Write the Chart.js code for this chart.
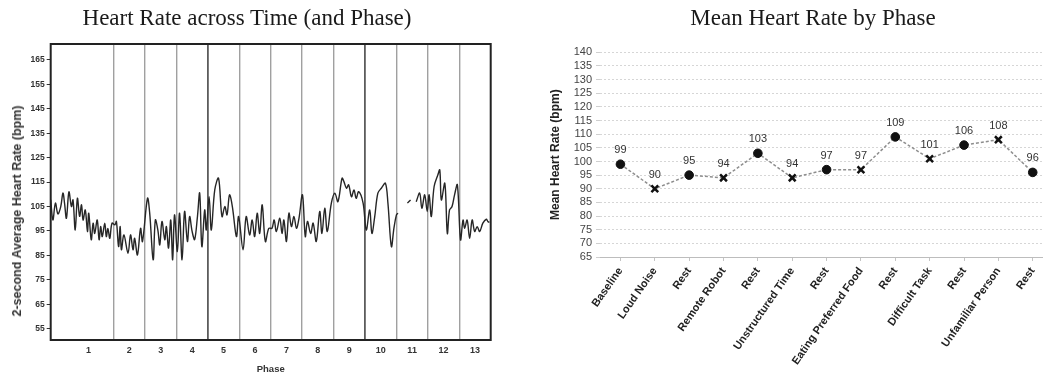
<!DOCTYPE html>
<html>
<head>
<meta charset="utf-8">
<script src="https://cdn.jsdelivr.net/npm/chart.js@4.4.1/dist/chart.umd.min.js"></script>
<style>
  body { margin: 0; width: 1048px; height: 376px; position: relative; background: #fff; overflow: hidden; }
  .panel { position: absolute; top: 0; height: 376px; }
  .title { position: absolute; top: 5px; font-family: "Liberation Serif", serif; font-size: 23px; line-height: 26px; color: #1a1a1a; text-align: center; white-space: nowrap; }
  .ycap { position: absolute; font-family: "Liberation Sans", Arial, sans-serif; font-weight: bold; font-size: 12.5px; color: #333; white-space: nowrap; transform: translate(-50%, -50%) rotate(-90deg); }
</style>
</head>
<body>
<div class="panel" style="left:0;width:520px"><canvas id="hrTime" width="520" height="376"></canvas></div>
<div class="panel" style="left:520px;width:528px"><canvas id="hrMean" width="528" height="376"></canvas></div>
<div class="title" style="left:0;width:494px">Heart Rate across Time (and Phase)</div>
<div class="title" style="left:578px;width:470px">Mean Heart Rate by Phase</div>
<div class="ycap" style="left:17px;top:211px">2-second Average Heart Rate (bpm)</div>

<script>
// --- left panel: 2 s averaged heart rate over the session (x in phase units)
const hrTime = [
  0.00, 0.07, 0.15, 0.23, 0.32, 0.39, 0.44, 0.50, 0.58, 0.66, 0.71, 0.78, 0.85, 0.92, 0.98,
  1.03, 1.10, 1.17, 1.21, 1.29, 1.35, 1.40, 1.48, 1.54, 1.59, 1.64, 1.72, 1.77, 1.82, 1.88, 1.95,
  2.04, 2.09, 2.16, 2.21, 2.25, 2.33, 2.46, 2.54, 2.62, 2.67, 2.76, 2.86, 2.92,
  3.08, 3.15, 3.26, 3.33, 3.41, 3.47, 3.54, 3.63, 3.68, 3.75, 3.82, 3.88, 3.94,
  4.03, 4.10, 4.18, 4.26, 4.35, 4.42, 4.50, 4.58, 4.67, 4.74, 4.81, 4.90, 4.95,
  5.04, 5.11, 5.22, 5.34, 5.45, 5.54, 5.61, 5.69, 5.78, 5.91, 5.98,
  6.12, 6.22, 6.33, 6.41, 6.49, 6.57, 6.65, 6.73, 6.83, 6.94,
  7.04, 7.11, 7.18, 7.29, 7.36, 7.42, 7.50, 7.58, 7.66, 7.74, 7.82, 7.90,
  8.01, 8.10, 8.17, 8.27, 8.35, 8.45, 8.56, 8.63, 8.72, 8.80, 8.93,
  9.04, 9.14, 9.27, 9.33, 9.41, 9.48, 9.57, 9.65, 9.72, 9.80, 9.94,
  10.04, 10.15, 10.22, 10.31, 10.41, 10.52, 10.65, 10.73, 10.84, 10.92, 11.00, 11.05,
  11.20, 11.35, 11.45, 11.54, 11.63, 11.74, 11.81, 11.90, 11.98,
  12.04, 12.11, 12.20, 12.32, 12.38, 12.43, 12.54, 12.62, 12.69, 12.77, 12.85, 12.94,
  13.04, 13.12, 13.17, 13.25, 13.33, 13.41, 13.49, 13.57, 13.65, 13.75, 13.86, 13.91, 13.96
];
const hrRate = [
  107.7, 99.5, 106.4, 102.0, 105.0, 110.5, 106.4, 100.2, 111.0, 105.0, 107.7, 95.4, 108.4, 101.0, 105.7,
  99.5, 103.6, 94.8, 102.3, 91.4, 98.2, 94.0, 99.5, 91.4, 96.8, 92.7, 98.2, 92.7, 96.0, 92.0, 98.2,
  97.5, 98.9, 88.6, 96.8, 87.3, 93.4, 85.9, 93.4, 87.3, 92.0, 85.2, 96.1, 90.7,
  108.4, 102.3, 83.2, 99.5, 95.4, 89.3, 98.9, 91.4, 96.8, 88.0, 99.5, 83.2, 101.6,
  86.6, 102.3, 83.2, 103.0, 90.7, 100.9, 94.8, 91.5, 101.0, 110.5, 88.6, 103.6, 95.4,
  109.0, 95.4, 111.8, 116.6, 100.9, 105.0, 101.6, 109.8, 105.0, 92.7, 100.9,
  87.3, 100.9, 93.4, 99.5, 92.7, 102.3, 94.0, 105.7, 90.7, 96.1,
  96.1, 99.5, 94.8, 100.2, 94.0, 99.5, 90.7, 102.3, 96.8, 100.9, 96.1, 100.2,
  109.8, 92.7, 98.9, 94.0, 98.2, 90.7, 103.0, 94.0, 104.3, 94.8, 106.4,
  110.5, 107.0, 116.6, 115.2, 112.5, 113.9, 109.0, 111.8, 108.4, 111.1, 106.4,
  95.4, 103.6, 94.0, 100.9, 110.5, 112.5, 114.5, 106.4, 88.6, 96.1, 101.6, 102.3,
  null, 106.4, 107.7, null, 107.0, 110.5, 104.3, 109.8, 103.0,
  109.8, 100.9, 113.2, 118.0, 120.0, 107.7, 114.5, 94.0, 103.6, 105.0, 109.8, 113.9,
  91.4, 99.5, 96.1, 99.5, 92.0, 99.5, 94.8, 96.8, 94.8, 98.2, 99.8, 98.9, 98.5
];
const phaseBounds = [2, 3, 4, 5, 6, 7, 8, 9, 10, 11, 12, 13];
const heavyBounds = [5, 10];
const phaseTickPos = [1.2, 2.5, 3.5, 4.5, 5.5, 6.5, 7.5, 8.5, 9.5, 10.5, 11.5, 12.5, 13.5];
const phaseTickLabels = ['1', '2', '3', '4', '5', '6', '7', '8', '9', '10', '11', '12', '13'];
const rateTicks = [55, 65, 75, 85, 95, 105, 115, 125, 135, 145, 155, 165];

// --- right panel: mean heart rate per phase
const phaseNames = ['Baseline', 'Loud Noise', 'Rest', 'Remote Robot', 'Rest', 'Unstructured Time', 'Rest',
  'Eating Preferred Food', 'Rest', 'Difficult Task', 'Rest', 'Unfamiliar Person', 'Rest'];
const meanRate = [99, 90, 95, 94, 103, 94, 97, 97, 109, 101, 106, 108, 96];

const sans = "'Liberation Sans', Arial, sans-serif";
const isRest = n => n === 'Rest' || n === 'Baseline';

// dark rectangle round the plot area
const frame = {
  id: 'frame',
  afterDraw(chart) {
    const { ctx, chartArea: a } = chart;
    ctx.save();
    ctx.strokeStyle = '#222';
    ctx.lineWidth = 2;
    ctx.strokeRect(a.left, a.top, a.right - a.left, a.bottom - a.top);
    ctx.restore();
  }
};

// value printed above each mean point
const valueLabels = {
  id: 'valueLabels',
  afterDatasetsDraw(chart) {
    const ctx = chart.ctx;
    const meta = chart.getDatasetMeta(0);
    ctx.save();
    ctx.font = '11px ' + sans;
    ctx.fillStyle = '#333';
    ctx.textAlign = 'center';
    ctx.textBaseline = 'middle';
    meta.data.forEach((pt, i) => {
      ctx.fillText(String(meanRate[i]), pt.x, pt.y - 14);
    });
    ctx.restore();
  }
};

new Chart(document.getElementById('hrTime'), {
  type: 'line',
  data: {
    datasets: [{
      data: hrTime.map((t, i) => ({ x: t, y: hrRate[i] })),
      borderColor: '#262626',
      borderWidth: 1.4,
      pointRadius: 0,
      tension: 0.35,
      spanGaps: false
    }]
  },
  options: {
    responsive: false,
    animation: false,
    layout: { padding: { top: 44, right: 29.3, left: 0, bottom: 0 } },
    plugins: { legend: { display: false }, tooltip: { enabled: false } },
    scales: {
      x: {
        type: 'linear',
        min: 0,
        max: 14,
        afterBuildTicks(scale) {
          scale.ticks = [...phaseBounds, ...phaseTickPos].sort((a, b) => a - b).map(v => ({ value: v }));
        },
        afterFit(scale) { scale.height = 36; },
        border: { display: false },
        grid: {
          drawTicks: false,
          color: c => !phaseBounds.includes(c.tick.value) ? 'rgba(0,0,0,0)'
            : heavyBounds.includes(c.tick.value) ? '#5c5c5c' : '#a0a0a0',
          lineWidth: c => heavyBounds.includes(c.tick.value) ? 1.8 : 1.4
        },
        ticks: {
          autoSkip: false,
          maxRotation: 0,
          padding: 5,
          color: '#333',
          font: { family: sans, size: 9, weight: 'bold' },
          callback: v => {
            const i = phaseTickPos.indexOf(v);
            return i >= 0 ? phaseTickLabels[i] : '';
          }
        },
        title: {
          display: true,
          text: 'Phase',
          color: '#333',
          font: { family: sans, size: 9.5, weight: 'bold' },
          padding: { top: 0, bottom: 1 }
        }
      },
      y: {
        min: 50.4,
        max: 171.5,
        afterBuildTicks(scale) { scale.ticks = rateTicks.map(v => ({ value: v })); },
        afterFit(scale) { scale.width = 50.7; },
        border: { display: false },
        grid: { drawOnChartArea: false, tickLength: 4, tickColor: '#333' },
        ticks: {
          autoSkip: false,
          padding: 2,
          color: '#333',
          font: { family: sans, size: 8.5, weight: 'bold' }
        }
      }
    }
  },
  plugins: [frame]
});

new Chart(document.getElementById('hrMean'), {
  type: 'line',
  data: {
    datasets: [{
      data: meanRate.map((v, i) => ({ x: i, y: v })),
      borderColor: '#8e8e8e',
      borderWidth: 1.5,
      borderDash: [3, 2],
      tension: 0,
      pointStyle: phaseNames.map(n => isRest(n) ? 'circle' : 'crossRot'),
      pointRadius: phaseNames.map(n => isRest(n) ? 4.3 : 4.8),
      pointBorderWidth: phaseNames.map(n => isRest(n) ? 1 : 2.5),
      pointBackgroundColor: '#111',
      pointBorderColor: '#111'
    }]
  },
  options: {
    responsive: false,
    animation: false,
    layout: { padding: { top: 52.3, right: 0, left: 0, bottom: 0 } },
    plugins: { legend: { display: false }, tooltip: { enabled: false } },
    scales: {
      x: {
        type: 'linear',
        min: -0.595,
        max: 12.29,
        afterBuildTicks(scale) { scale.ticks = phaseNames.map((_, i) => ({ value: i })); },
        afterFit(scale) { scale.height = 119; },
        border: { display: true, color: '#bdbdbd', width: 1 },
        grid: { drawOnChartArea: false, tickLength: 4, tickColor: '#c4c4c4' },
        ticks: {
          autoSkip: false,
          minRotation: 55,
          maxRotation: 55,
          padding: 4,
          color: '#222',
          font: { family: sans, size: 11, weight: 'bold' },
          callback: v => phaseNames[v]
        }
      },
      y: {
        min: 65,
        max: 140,
        afterFit(scale) { scale.width = 80; },
        border: { display: false, dash: [2, 2] },
        grid: { color: '#d6d6d6', tickLength: 4, tickColor: '#cfcfcf' },
        ticks: {
          stepSize: 5,
          autoSkip: false,
          padding: 4,
          color: '#444',
          font: { family: sans, size: 11, lineHeight: 1 }
        },
        title: {
          display: true,
          text: 'Mean Heart Rate (bpm)',
          color: '#222',
          font: { family: sans, size: 12, weight: 'bold' },
          padding: { top: 28, bottom: 0 }
        }
      }
    }
  },
  plugins: [valueLabels]
});
</script>
</body>
</html>
